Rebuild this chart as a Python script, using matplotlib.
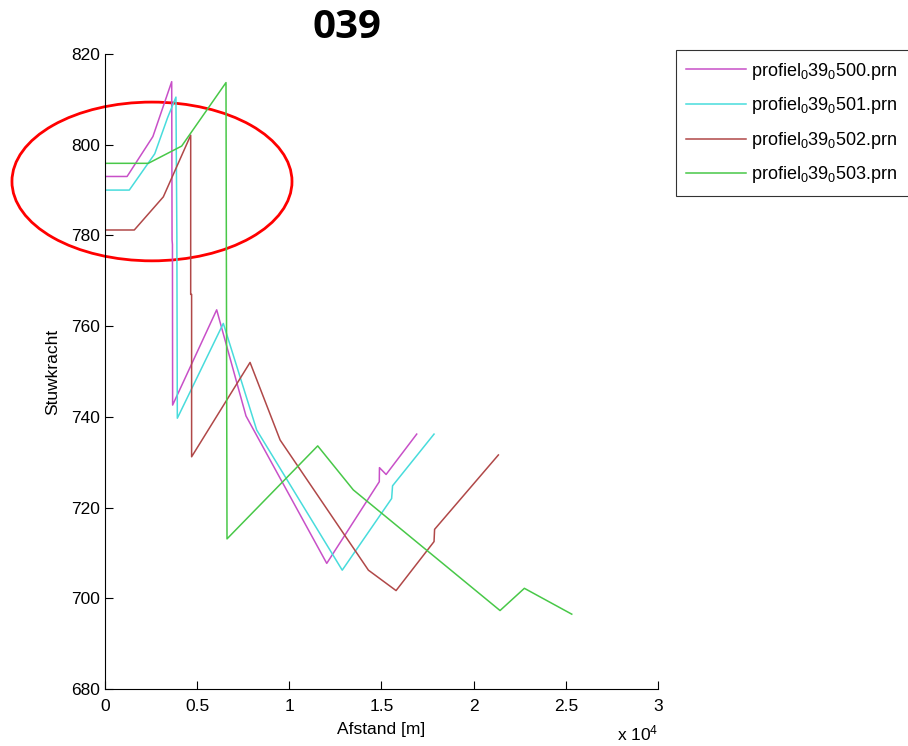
import matplotlib
matplotlib.use("Agg")
import matplotlib.pyplot as plt
from matplotlib.patches import Ellipse

# values
x500 = [0, 1200, 2600, 3620, 3640, 3660, 3670, 6060, 7650, 12030, 14880, 14890, 15250, 16910]
y500 = [793, 793, 801.8, 813.9, 779, 778, 742.6, 763.6, 740.2, 707.7, 725.7, 728.8, 727.3, 736.2]

x501 = [0, 1320, 2700, 3400, 3850, 3900, 3925, 6420, 8230, 12870, 15550, 15600, 17850]
y501 = [790, 790, 798, 806, 810.5, 780, 739.7, 760.6, 737.1, 706.2, 722.0, 724.8, 736.2]

x502 = [0, 1590, 3165, 4650, 4650, 4700, 4700, 7870, 9500, 14290, 15790, 17850, 17880, 21340]
y502 = [781.2, 781.2, 788.5, 802.1, 767, 767, 731.2, 752.0, 734.9, 706.2, 701.7, 712.5, 715.2, 731.6]

x503 = [0, 2350, 4160, 6565, 6620, 11540, 13470, 21430, 22750, 25320]
y503 = [795.9, 795.9, 799.7, 813.7, 713.1, 733.6, 723.9, 697.3, 702.2, 696.5]

names = ['profiel$_0$39$_0$500.prn', 'profiel$_0$39$_0$501.prn',
         'profiel$_0$39$_0$502.prn', 'profiel$_0$39$_0$503.prn']
colors = ['#c850c8', '#48dcdc', '#b04848', '#48c848']

plt.rcParams['font.family'] = ['Liberation Sans', 'DejaVu Sans']
plt.rcParams['mathtext.fontset'] = 'custom'
plt.rcParams['mathtext.rm'] = 'Liberation Sans'
plt.rcParams['mathtext.it'] = 'Liberation Sans'

fig = plt.figure(figsize=(9.08, 7.46), dpi=100)
ax = fig.add_axes([0.1156, 0.0764, 0.6091, 0.8512])

lines = []
for xs, ys, c, n in zip([x500, x501, x502, x503], [y500, y501, y502, y503], colors, names):
    l, = ax.plot(xs, ys, color=c, lw=1.1, label=n)
    lines.append(l)

ax.set_xlim(0, 30000)
ax.set_ylim(680, 820)
ax.set_xticks([0, 5000, 10000, 15000, 20000, 25000, 30000])
ax.set_xticklabels(['0', '0.5', '1', '1.5', '2', '2.5', '3'])
ax.set_yticks(range(680, 821, 20))
ax.spines['top'].set_visible(False)
ax.spines['right'].set_visible(False)
ax.tick_params(direction='in', labelsize=12.5, length=6)
ax.tick_params(axis='x', pad=7)
ax.set_xlabel('Afstand [m]', fontsize=12.5, labelpad=6)
ax.set_ylabel('Stuwkracht', fontsize=12.5, labelpad=8)

fig.text(0.679, 0.004, r'x 10$^4$', fontsize=12.5, ha='left', va='bottom')
fig.text(0.382, 0.963, '039', fontsize=29, fontweight='bold', family='Open Sans',
         ha='center', va='center')

# red annotation ellipse
ell = Ellipse((2550, 791.9), width=15190, height=35.0, fill=False,
              edgecolor='red', lw=2, clip_on=False)
ax.add_patch(ell)

leg = fig.legend(handles=lines, loc='upper left', bbox_to_anchor=(0.744, 0.933),
                 fontsize=13, frameon=True, fancybox=False, edgecolor='black',
                 handlelength=3.3, handletextpad=0.3, borderpad=0.6, labelspacing=0.75,
                 borderaxespad=0)
leg.get_frame().set_linewidth(0.8)

fig.savefig('out.png', dpi=100)
